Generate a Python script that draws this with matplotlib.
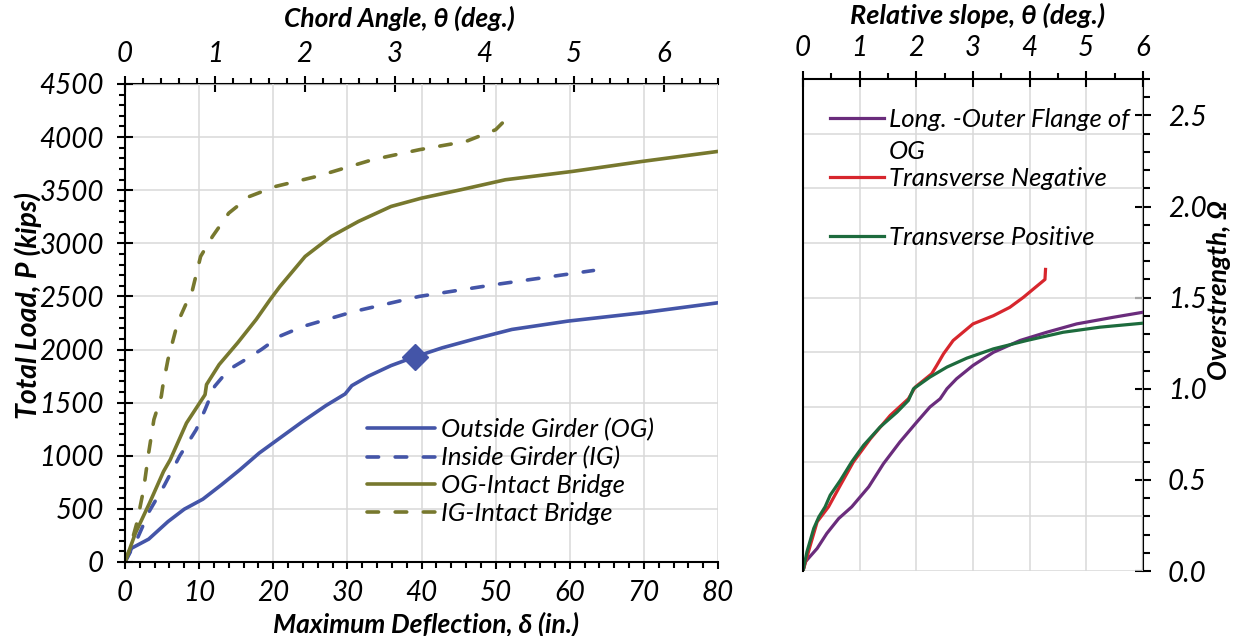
import matplotlib
matplotlib.use("Agg")
import matplotlib.pyplot as plt
from matplotlib.ticker import MultipleLocator

plt.rcParams["font.family"] = ["Lato", "DejaVu Sans"]
plt.rcParams["font.style"] = "italic"
plt.rcParams["font.size"] = 20
TICK_FS = 20
LEG_FS = 18.5
LAB_FS = 19

# ---- left panel: load vs. deflection (in., kips) ----
og_defl = [0, 0.9, 3.2, 5.8, 8.0, 10.5, 13.0, 15.5, 18.1, 20.9, 24.0, 27.1,
           29.7, 30.6, 32.8, 35.9, 38.7, 42.8, 47.2, 52.2, 59.7, 69.8, 80.0]
og_load = [0, 130, 215, 380, 497, 591, 726, 868, 1025, 1167, 1324, 1472,
           1582, 1660, 1748, 1849, 1921, 2016, 2100, 2189, 2267, 2346, 2440]

ig_defl = [0, 1.6, 3.3, 5.3, 7.4, 9.6, 10.8, 12.1, 14.0, 15.9, 18.4, 20.9,
           24.0, 30.9, 39.7, 49.7, 63.2]
ig_load = [0, 210, 480, 720, 1000, 1245, 1434, 1654, 1811, 1890, 2000, 2126,
           2217, 2358, 2500, 2609, 2744]

ogi_defl = [0, 1.4, 3.3, 5.2, 6.1, 8.3, 10.8, 11.0, 12.7, 15.2, 17.7, 19.6,
            20.9, 24.3, 27.8, 31.5, 35.9, 40.0, 45.3, 51.3, 60.4, 69.8, 80.0]
ogi_load = [0, 270, 553, 852, 962, 1308, 1575, 1670, 1858, 2063, 2283, 2472,
            2593, 2876, 3064, 3206, 3347, 3425, 3504, 3598, 3677, 3771, 3865]

igi_defl = [0, 0.6, 1.6, 2.5, 3.2, 3.9, 4.9, 5.1, 5.8, 7.1, 8.3, 9.0, 10.2,
            11.8, 14.0, 16.8, 20.3, 25.9, 33.4, 39.7, 46.0, 50.0, 50.9]
igi_load = [0, 113, 367, 678, 1030, 1340, 1560, 1654, 1906, 2252, 2440, 2531,
            2876, 3064, 3284, 3441, 3535, 3630, 3787, 3881, 3959, 4069, 4132]

marker_defl = [39.1]
marker_load = [1925]

left_labels = ["Outside Girder (OG)", "Inside Girder (IG)",
               "OG-Intact Bridge", "IG-Intact Bridge"]
CHORD_DEG_PER_IN = 6.6 / 80.0

# ---- right panel: overstrength vs. relative slope ----
long_slope = [0, 0.04, 0.25, 0.42, 0.63, 0.86, 1.16, 1.42, 1.71, 2.01, 2.24,
              2.42, 2.54, 2.71, 3.0, 3.36, 3.83, 4.3, 4.83, 5.47, 6.0]
long_omega = [0, 0.05, 0.124, 0.206, 0.288, 0.352, 0.462, 0.589, 0.708, 0.818,
              0.9, 0.945, 1.0, 1.055, 1.128, 1.2, 1.265, 1.31, 1.356, 1.392, 1.42]

neg_slope = [0, 0.13, 0.25, 0.45, 0.66, 0.89, 1.19, 1.54, 1.86, 1.98, 2.27,
             2.36, 2.48, 2.65, 3.0, 3.36, 3.65, 3.89, 4.06, 4.27, 4.28]
neg_omega = [0, 0.142, 0.27, 0.352, 0.471, 0.599, 0.726, 0.854, 0.945, 1.009,
             1.082, 1.128, 1.192, 1.265, 1.356, 1.401, 1.447, 1.502, 1.546,
             1.6, 1.655]

pos_slope = [0, 0.07, 0.19, 0.28, 0.39, 0.48, 0.66, 0.86, 1.07, 1.36, 1.66,
             1.86, 1.95, 2.24, 2.54, 2.89, 3.36, 3.95, 4.59, 5.24, 6.0]
pos_omega = [0, 0.106, 0.234, 0.297, 0.352, 0.416, 0.498, 0.599, 0.69, 0.79,
             0.872, 0.936, 1.0, 1.064, 1.119, 1.168, 1.219, 1.265, 1.31, 1.338,
             1.36]

right_labels = ["Long. -Outer Flange of", "Transverse Negative",
                "Transverse Positive"]
first_label_wrap = "OG"

BLUE = "#4455A8"
OLIVE = "#77782E"
PURPLE = "#6A2C7C"
RED = "#D7262D"
GREEN = "#1D6B3D"
GRID = "#D9D9D9"
LW = 2.6

fig = plt.figure(figsize=(12.35, 6.36), dpi=100)
W, H = 1235.0, 636.0


def place_label(axis, x, y, trans):
    """Centre an axis label at (x, y) in the given axes coordinates."""
    axis.set_label_coords(x, y, transform=trans)
    axis.label.set_va("center")
    axis.label.set_ha("center")


# ================= left panel =================
ax = fig.add_axes([0.1012, 0.1164, 0.4802, 0.7516])
ax.plot(og_defl, og_load, color=BLUE, lw=LW, label=left_labels[0],
        solid_capstyle="round")
ax.plot(ig_defl, ig_load, color=BLUE, lw=LW, label=left_labels[1],
        dashes=(3.2, 4.6), dash_capstyle="round")
ax.plot(ogi_defl, ogi_load, color=OLIVE, lw=LW, label=left_labels[2],
        solid_capstyle="round")
ax.plot(igi_defl, igi_load, color=OLIVE, lw=LW, label=left_labels[3],
        dashes=(3.2, 4.6), dash_capstyle="round")
ax.plot(marker_defl, marker_load, "D", color=BLUE, ms=13)

ax.set_xlim(0, 80)
ax.set_ylim(0, 4500)
ax.xaxis.set_major_locator(MultipleLocator(10))
ax.xaxis.set_minor_locator(MultipleLocator(2))
ax.yaxis.set_major_locator(MultipleLocator(500))
ax.yaxis.set_minor_locator(MultipleLocator(100))
ax.grid(True, which="major", color=GRID, lw=1.1)
ax.set_axisbelow(True)
for s in ["top", "right"]:
    ax.spines[s].set_visible(False)
for s in ["left", "bottom"]:
    ax.spines[s].set_linewidth(1.5)
ax.tick_params(axis="x", which="major", direction="out", length=5, width=1.5,
               pad=8, labelsize=TICK_FS)
ax.tick_params(axis="x", which="minor", direction="out", length=4, width=1.5)
ax.tick_params(axis="y", which="major", direction="inout", length=12,
               width=1.5, pad=9, labelsize=TICK_FS)
ax.tick_params(axis="y", which="minor", direction="out", length=4, width=1.5)
ax.set_xlabel("Maximum Deflection, δ (in.)", fontweight="bold",
              fontsize=LAB_FS)
ax.set_ylabel("Total Load, P (kips)", fontweight="bold", fontsize=20.5)

top = ax.secondary_xaxis("top", functions=(lambda d: d * CHORD_DEG_PER_IN,
                                           lambda t: t / CHORD_DEG_PER_IN))
top.xaxis.set_major_locator(MultipleLocator(1))
top.xaxis.set_minor_locator(MultipleLocator(0.2))
top.spines["top"].set_linewidth(1.5)
top.tick_params(which="major", direction="inout", length=12, width=1.5, pad=6,
                labelsize=TICK_FS)
top.tick_params(which="minor", direction="out", length=4, width=1.5)
top.set_xlabel("Chord Angle, θ (deg.)", fontweight="bold", fontsize=LAB_FS)

leg = ax.legend(loc="upper left", bbox_to_anchor=(0.408, 0.301),
                frameon=False, borderaxespad=0, borderpad=0, fontsize=LEG_FS,
                handlelength=2.65, handletextpad=0.23, labelspacing=0.19)

# ================= right panel =================
ax2 = fig.add_axes([0.6502, 0.1022, 0.2753, 0.7736])
ax2.plot(long_slope, long_omega, color=PURPLE, lw=2.3, label=right_labels[0])
ax2.plot(neg_slope, neg_omega, color=RED, lw=2.3, label=right_labels[1])
ax2.plot(pos_slope, pos_omega, color=GREEN, lw=2.3, label=right_labels[2])

ax2.set_xlim(0, 6)
ax2.set_ylim(0, 2.7)
ax2.xaxis.set_major_locator(MultipleLocator(1))
ax2.xaxis.set_minor_locator(MultipleLocator(0.5))
ax2.yaxis.set_major_locator(MultipleLocator(0.3))
ax2.grid(True, which="major", color=GRID, lw=1.1)
ax2.set_axisbelow(True)
ax2.xaxis.tick_top()
ax2.tick_params(axis="x", which="major", direction="inout", length=12,
                width=1.5, pad=7, labelsize=TICK_FS)
ax2.tick_params(axis="x", which="minor", direction="out", length=4, width=1.5)
ax2.tick_params(axis="y", left=False, labelleft=False)
for s in ["bottom", "right"]:
    ax2.spines[s].set_visible(False)
for s in ["top", "left"]:
    ax2.spines[s].set_linewidth(1.5)
ax2.xaxis.set_label_position("top")
ax2.set_xlabel("Relative slope, θ (deg.)", fontweight="bold", fontsize=19.5)

rt = ax2.secondary_yaxis("right")
rt.yaxis.set_major_locator(MultipleLocator(0.5))
rt.yaxis.set_minor_locator(MultipleLocator(0.1))
rt.yaxis.set_major_formatter(lambda v, p: f"{v:.1f}")
rt.spines["right"].set_linewidth(1.5)
rt.tick_params(which="major", direction="inout", length=12, width=1.5, pad=12,
               labelsize=TICK_FS)
rt.tick_params(which="minor", direction="out", length=5, width=1.5)
rt.set_ylabel("Overstrength, Ω", fontweight="bold", fontsize=LAB_FS)

leg2 = ax2.legend(loc="upper left", bbox_to_anchor=(0.079, 0.941),
                  frameon=False, borderaxespad=0, borderpad=0, fontsize=LEG_FS,
                  handlelength=2.1, handletextpad=0.2, labelspacing=1.4)

# axis-title positions (Excel-style placement, slightly off-centre)
place_label(ax.xaxis, 0.508, -0.13, ax.transAxes)
place_label(ax.yaxis, -0.1636, 0.536, ax.transAxes)
place_label(top.xaxis, 0.462, 1.138, ax.transAxes)
place_label(ax2.xaxis, 0.512, 1.130, ax2.transAxes)
place_label(rt.yaxis, 1.225, 0.57, ax2.transAxes)

# the first legend label wraps onto a second line in the original
fig.canvas.draw()
bb = leg2.get_texts()[0].get_window_extent()
fig.text(bb.x0 / W, (bb.y0 + bb.height / 2 - 32) / H, first_label_wrap,
         fontsize=LEG_FS, va="center", ha="left")

fig.savefig("out.png", dpi=100)
